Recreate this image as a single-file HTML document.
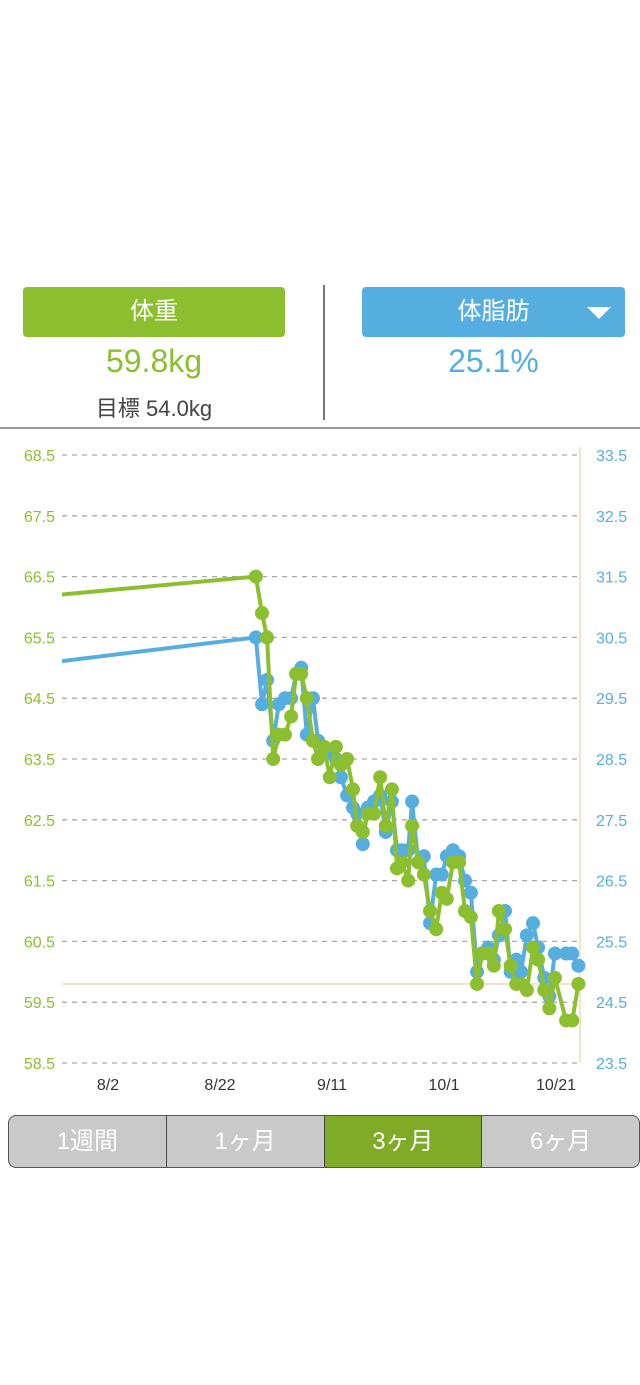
<!DOCTYPE html>
<html><head><meta charset="utf-8">
<style>
body{margin:0;width:640px;height:1385px;background:#fff;font-family:"Liberation Sans","Noto Sans CJK JP",sans-serif;position:relative;overflow:hidden}
.abs{position:absolute}
.btn{position:absolute;top:287px;height:50px;border-radius:4px;color:#fff;font-size:24px;line-height:50px;text-align:center}
.tabs{position:absolute;left:8px;top:1115px;width:630px;height:51px;border:1px solid #555;border-radius:8px;overflow:hidden;display:flex;background:#c9c9c9}
.tab{flex:1;color:#fff;font-size:24px;line-height:51px;text-align:center;border-right:1px solid #444}
.tab:last-child{border-right:none}
</style></head><body>
<div class="btn" style="left:23px;width:262px;background:#8cbf2f">体重</div>
<div class="btn" style="left:362px;width:263px;background:#56aee0">体脂肪<span style="position:absolute;right:14px;top:20px;width:0;height:0;border-left:12px solid transparent;border-right:12px solid transparent;border-top:12px solid #fff"></span></div>
<div class="abs" style="left:23px;width:262px;top:343px;text-align:center;color:#8cbf2f;font-size:32px">59.8kg</div>
<div class="abs" style="left:23px;width:262px;top:391px;text-align:center;color:#444;font-size:22px">目標 54.0kg</div>
<div class="abs" style="left:362px;width:263px;top:343px;text-align:center;color:#56aee0;font-size:32px">25.1%</div>
<div class="abs" style="left:323px;top:285px;width:2px;height:135px;background:#777"></div>
<div class="abs" style="left:0;top:427px;width:640px;height:2px;background:#999"></div>
<svg class="abs" style="left:0;top:0" width="640" height="1110">
<defs><clipPath id="cp"><rect x="62" y="440" width="530" height="640"/></clipPath></defs>
<g id="grid"></g><g id="lines" clip-path="url(#cp)"></g><g id="labels"></g>
</svg>
<div class="tabs">
<div class="tab">1週間</div>
<div class="tab">1ヶ月</div>
<div class="tab" style="background:#7fab26">3ヶ月</div>
<div class="tab">6ヶ月</div>
</div>
<script>
const leftTicks=[68.5,67.5,66.5,65.5,64.5,63.5,62.5,61.5,60.5,59.5,58.5];
const rightTicks=[33.5,32.5,31.5,30.5,29.5,28.5,27.5,26.5,25.5,24.5,23.5];
const xTickLabels=["8/2","8/22","9/11","10/1","10/21"];
const xTickDays=[0,20,40,60,80];
const days=[-10,26.4,27.5,28.4,29.5,30.5,31.6,32.7,33.6,34.5,35.5,36.6,37.5,38.6,39.6,40.7,41.6,42.7,43.75,44.5,45.5,46.4,47.5,48.6,49.6,50.7,51.6,52.5,53.6,54.3,55.4,56.4,57.5,58.6,59.6,60.5,61.6,62.7,63.75,64.8,65.9,66.8,67.9,68.9,69.8,70.9,71.9,72.9,73.75,74.8,75.9,76.8,77.9,78.8,79.8,81.8,82.9,84];
const weight=[66.19,66.5,65.9,65.5,63.5,63.9,63.9,64.2,64.9,64.9,64.5,63.8,63.5,63.7,63.2,63.7,63.4,63.5,63.0,62.4,62.3,62.6,62.6,63.2,62.4,63.0,61.7,61.8,61.5,62.4,61.8,61.6,61.0,60.7,61.3,61.2,61.8,61.8,61.0,60.9,59.8,60.3,60.3,60.1,61.0,60.7,60.1,59.8,59.8,59.7,60.4,60.2,59.7,59.4,59.9,59.2,59.2,59.8];
const fat=[30.09,30.5,29.4,29.8,28.8,29.4,29.5,29.5,29.9,30.0,28.9,29.5,28.8,28.6,28.6,28.5,28.2,27.9,27.7,27.6,27.1,27.7,27.8,27.9,27.3,27.8,27.0,27.0,27.0,27.8,26.8,26.9,25.8,26.6,26.6,26.9,27.0,26.9,26.5,26.3,25.0,25.3,25.4,25.2,25.6,26.0,25.0,25.2,25.0,25.6,25.8,25.4,24.9,24.6,25.3,25.3,25.3,25.1];
const targetWeight=59.8;
const G='#8cbf2f',B='#56aee0',NS='http://www.w3.org/2000/svg';
const yL=v=>455+(68.5-v)*60.8;
const yR=v=>455+(33.5-v)*60.8;
const xD=d=>108+d*5.6;
function mk(tag,attrs,parent){const e=document.createElementNS(NS,tag);for(const k in attrs)e.setAttribute(k,attrs[k]);document.getElementById(parent).appendChild(e);return e;}
leftTicks.forEach((t,i)=>{
 const l=mk('line',{x1:62,x2:580,y1:yL(t),y2:yL(t),stroke:'#aaa','stroke-dasharray':'5,5','stroke-width':1.3},'grid');
 
 
 const a=mk('text',{x:55,y:yL(t)+6,'text-anchor':'end',fill:G,'font-size':16},'labels');a.textContent=t.toFixed(1);
 
 
 const b=mk('text',{x:596,y:yR(rightTicks[i])+6,fill:B,'font-size':16},'labels');b.textContent=rightTicks[i].toFixed(1);
 
 
});
const ax=mk('line',{x1:580,x2:580,y1:447,y2:1063,stroke:'#f2d9b8','stroke-width':1.5},'grid');


const tl=mk('line',{x1:62,x2:580,y1:yL(targetWeight),y2:yL(targetWeight),stroke:'#f2d9b8','stroke-width':1.5},'grid');


xTickLabels.forEach((s,i)=>{const t=mk('text',{x:xD(xTickDays[i]),y:1090,'text-anchor':'middle',fill:'#333','font-size':16},'labels');t.textContent=s;
 
 });
function series(vals,yf,col,name){
 const p=mk('polyline',{points:vals.map((v,i)=>xD(days[i])+','+yf(v)).join(' '),fill:'none',stroke:col,'stroke-width':4,'stroke-linejoin':'round'},'lines');
 
 
 vals.forEach((v,i)=>{if(i===0)return;const c=mk('circle',{cx:xD(days[i]),cy:yf(v),r:7,fill:col},'lines');
  
  });
}
series(fat,yR,B,'body-fat');
series(weight,yL,G,'weight');
</script>
</body></html>
